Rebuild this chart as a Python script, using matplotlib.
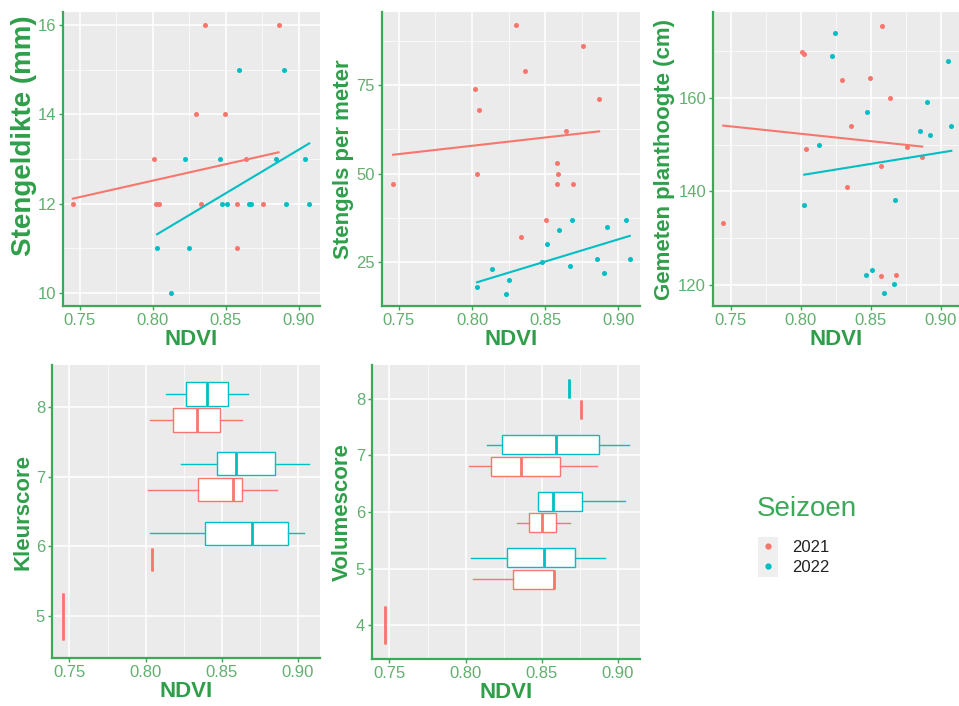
import numpy as np
import matplotlib.pyplot as plt
from matplotlib.ticker import MultipleLocator
from matplotlib.patches import Rectangle
from matplotlib.lines import Line2D

plt.rcParams['font.family'] = ['Liberation Sans', 'DejaVu Sans']

seasons = ['2021', '2022']
colors = {'2021': '#F8766D', '2022': '#00BFC4'}
tick_green = '#62AF6F'
title_green = '#2F9E4A'
line_green = '#3DA85A'

# Stengeldikte (mm)
dikte_ndvi_2021 = [0.7452, 0.8356, 0.8863, 0.8297, 0.8498, 0.8011, 0.8639, 0.8025,
                   0.8041, 0.8331, 0.8578, 0.8756, 0.8578]
dikte_2021 = [12, 16, 16, 14, 14, 13, 13, 12, 12, 12, 12, 12, 11]
dikte_ndvi_2022 = [0.8591, 0.8897, 0.8224, 0.8463, 0.8847, 0.9043, 0.8475, 0.8509,
                   0.8658, 0.8676, 0.8916, 0.9073, 0.8030, 0.8247, 0.8128]
dikte_2022 = [15, 15, 13, 13, 13, 13, 12, 12, 12, 12, 12, 12, 11, 11, 10]
# lm trend (value at lowest and highest NDVI of the season)
dikte_trend_2021 = [12.11, 13.15]
dikte_trend_2022 = [11.31, 13.35]

# Stengels per meter
stengels_ndvi_2021 = [0.7460, 0.8303, 0.8761, 0.8362, 0.8018, 0.8046, 0.8868, 0.8640,
                      0.8032, 0.8581, 0.8585, 0.8581, 0.8690, 0.8503, 0.8337]
stengels_2021 = [47, 92, 86, 79, 74, 68, 71, 62, 50, 53, 50, 47, 47, 37, 32]
stengels_ndvi_2022 = [0.8034, 0.8137, 0.8251, 0.8230, 0.8481, 0.8513, 0.8595, 0.8681,
                      0.8670, 0.8854, 0.8902, 0.8920, 0.9048, 0.9077]
stengels_2022 = [18, 23, 20, 16, 25, 30, 34, 37, 24, 26, 22, 35, 37, 26]
stengels_trend_2021 = [55.3, 61.9]
stengels_trend_2022 = [19.3, 32.4]

# Gemeten planthoogte (cm)
hoogte_ndvi_2021 = [0.7447, 0.8581, 0.8012, 0.8024, 0.8293, 0.8498, 0.8636, 0.8357,
                    0.8036, 0.8760, 0.8869, 0.8576, 0.8329, 0.8574, 0.8683]
hoogte_2021 = [133.2, 175.5, 169.9, 169.5, 163.9, 164.3, 160.0, 154.0,
               149.0, 149.5, 147.3, 145.5, 141.0, 121.9, 122.2]
hoogte_ndvi_2022 = [0.8243, 0.8224, 0.9050, 0.8900, 0.8476, 0.8852, 0.8921, 0.9076,
                    0.8129, 0.8026, 0.8676, 0.8510, 0.8469, 0.8667, 0.8595]
hoogte_2022 = [174.0, 169.0, 168.0, 159.1, 157.0, 153.0, 152.0, 154.0,
               150.0, 137.1, 138.1, 123.2, 122.2, 120.2, 118.2]
hoogte_trend_2021 = [154.1, 149.6]
hoogte_trend_2022 = [143.6, 148.7]

# Kleurscore boxplots: [whisker low, q1, median, q3, whisker high] of NDVI
kleur_scores_2021 = [5, 6, 7, 8]
kleur_box_2021 = [[0.7458, 0.7458, 0.7458, 0.7458, 0.7458],
                  [0.8044, 0.8044, 0.8044, 0.8044, 0.8044],
                  [0.8018, 0.8342, 0.8577, 0.8634, 0.8862],
                  [0.8029, 0.8182, 0.8336, 0.8489, 0.8634]]
kleur_scores_2022 = [6, 7, 8]
kleur_box_2022 = [[0.8029, 0.8393, 0.8702, 0.8936, 0.9041],
                  [0.8232, 0.8469, 0.8592, 0.8853, 0.9075],
                  [0.8132, 0.8265, 0.8404, 0.8539, 0.8675]]

# Volumescore boxplots
volume_scores_2021 = [4, 5, 6, 7, 8]
volume_box_2021 = [[0.7471, 0.7471, 0.7471, 0.7471, 0.7471],
                   [0.8050, 0.8312, 0.8581, 0.8581, 0.8581],
                   [0.8338, 0.8417, 0.8502, 0.8598, 0.8688],
                   [0.8022, 0.8170, 0.8362, 0.8618, 0.8867],
                   [0.8760, 0.8760, 0.8760, 0.8760, 0.8760]]
volume_scores_2022 = [5, 6, 7, 8]
volume_box_2022 = [[0.8035, 0.8275, 0.8513, 0.8720, 0.8917],
                   [0.8476, 0.8476, 0.8574, 0.8764, 0.9048],
                   [0.8138, 0.8240, 0.8596, 0.8880, 0.9076],
                   [0.8679, 0.8679, 0.8679, 0.8679, 0.8679]]

W, H = 959, 706
fig = plt.figure(figsize=(W / 100, H / 100), dpi=100)


def px_axes(left, top, right, bottom):
    return fig.add_axes([left / W, 1 - bottom / H, (right - left) / W, (bottom - top) / H])


def style(ax, ylabel, ysize=16, yminor=None):
    ax.set_facecolor('#EBEBEB')
    ax.set_axisbelow(True)
    for s in ['top', 'right']:
        ax.spines[s].set_visible(False)
    for s in ['left', 'bottom']:
        ax.spines[s].set_color(line_green)
        ax.spines[s].set_linewidth(1.6)
    ax.xaxis.set_major_locator(MultipleLocator(0.05))
    ax.xaxis.set_minor_locator(MultipleLocator(0.025))
    ax.xaxis.set_major_formatter(plt.FuncFormatter(lambda v, p: f'{v:.2f}'))
    if yminor:
        ax.yaxis.set_minor_locator(MultipleLocator(yminor))
    ax.grid(which='major', color='white', linewidth=1.1)
    ax.grid(which='minor', color='white', linewidth=0.5)
    ax.tick_params(which='major', colors=line_green, labelcolor=tick_green,
                   labelsize=12, length=3, width=1, pad=2)
    ax.tick_params(which='minor', length=0)
    ax.set_xlabel('NDVI', fontsize=16, fontweight='bold', color=title_green, labelpad=1)
    ax.set_ylabel(ylabel, fontsize=ysize, fontweight='bold', color=title_green, labelpad=2)


def scatter_panel(ax, xs, ys, trends):
    for season, x, y, tr in zip(seasons, xs, ys, trends):
        ax.scatter(x, y, s=13, color=colors[season], zorder=3, linewidths=0)
        ax.plot([min(x), max(x)], tr, color=colors[season], linewidth=1.5, zorder=4)


def box_panel(ax, scores, boxes):
    for i, season in enumerate(seasons):
        other = scores[1 - i]
        c = colors[season]
        for sc, q in zip(scores[i], boxes[i]):
            if sc in other:
                pos, w = sc + (-0.1875 if season == '2021' else 0.1875), 0.3375
            else:
                pos, w = sc, 0.675
            st = dict(whislo=q[0], q1=q[1], med=q[2], q3=q[3], whishi=q[4], fliers=[])
            ax.bxp([st], positions=[pos], widths=[w], orientation='horizontal',
                   patch_artist=True, showcaps=False, showfliers=False, manage_ticks=False,
                   boxprops=dict(facecolor='white', edgecolor=c, linewidth=1.0),
                   whiskerprops=dict(color=c, linewidth=1.0),
                   medianprops=dict(color=c, linewidth=2.0))


ax1 = px_axes(63, 12, 320, 306)
scatter_panel(ax1, [dikte_ndvi_2021, dikte_ndvi_2022], [dikte_2021, dikte_2022],
              [dikte_trend_2021, dikte_trend_2022])
ax1.set_xlim(0.7385, 0.9147)
ax1.set_ylim(9.7, 16.3)
ax1.set_yticks([10, 12, 14, 16])
style(ax1, 'Stengeldikte (mm)', ysize=20, yminor=1)
ax1.yaxis.set_label_coords(-0.1, 0.58)

ax2 = px_axes(382, 12, 640, 306)
scatter_panel(ax2, [stengels_ndvi_2021, stengels_ndvi_2022], [stengels_2021, stengels_2022],
              [stengels_trend_2021, stengels_trend_2022])
ax2.set_xlim(0.7385, 0.9147)
ax2.set_ylim(12.6, 95.6)
ax2.set_yticks([25, 50, 75])
style(ax2, 'Stengels per meter', yminor=12.5)

ax3 = px_axes(713, 12, 959, 306)
scatter_panel(ax3, [hoogte_ndvi_2021, hoogte_ndvi_2022], [hoogte_2021, hoogte_2022],
              [hoogte_trend_2021, hoogte_trend_2022])
ax3.set_xlim(0.7374, 0.9131)
ax3.set_ylim(115.5, 178.4)
ax3.set_yticks([120, 140, 160])
style(ax3, 'Gemeten planthoogte (cm)', yminor=10)

ax4 = px_axes(52, 365, 320, 658)
box_panel(ax4, [kleur_scores_2021, kleur_scores_2022], [kleur_box_2021, kleur_box_2022])
ax4.set_xlim(0.7385, 0.9147)
ax4.set_ylim(4.4, 8.6)
ax4.set_yticks([5, 6, 7, 8])
style(ax4, 'Kleurscore')

ax5 = px_axes(372, 365, 640, 659)
box_panel(ax5, [volume_scores_2021, volume_scores_2022], [volume_box_2021, volume_box_2022])
ax5.set_xlim(0.7385, 0.9147)
ax5.set_ylim(3.4, 8.6)
ax5.set_yticks([4, 5, 6, 7, 8])
style(ax5, 'Volumescore')

# legend
fig.text(757 / W, 1 - 509 / H, 'Seizoen', fontsize=20, color=line_green, va='center', ha='left')
fig.patches.append(Rectangle((758 / W, 1 - 577 / H), 20 / W, 40 / H, transform=fig.transFigure,
                             facecolor='#EFEFEF', edgecolor='none'))
handles = [Line2D([], [], marker='o', linestyle='none', markersize=3.5, color=colors[s])
           for s in seasons]
leg = fig.legend(handles, seasons, loc='upper left',
                 bbox_to_anchor=(758 / W, 1 - 540 / H), frameon=False,
                 fontsize=12, handlelength=1.2, handletextpad=0.85,
                 labelspacing=0.3, borderpad=0, borderaxespad=0)
for t in leg.get_texts():
    t.set_color('#222222')

fig.savefig('out.png', dpi=100)
